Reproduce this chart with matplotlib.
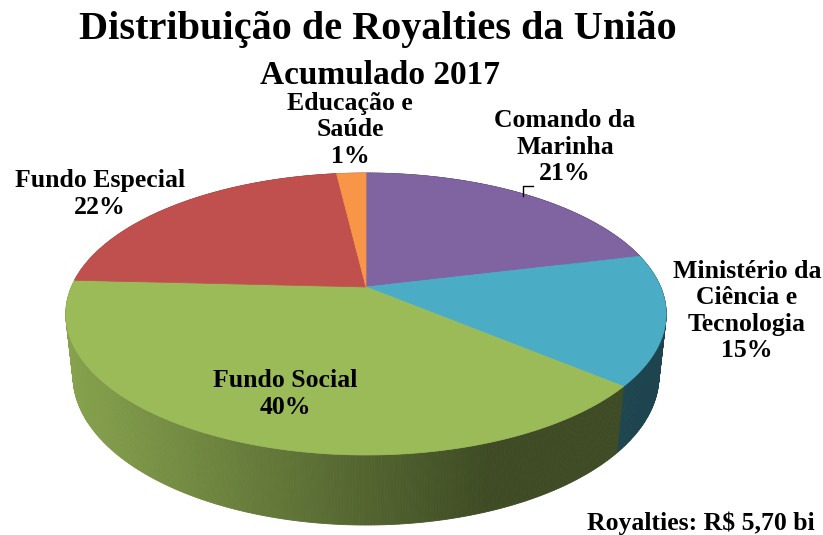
import numpy as np
import matplotlib
matplotlib.use("Agg")
import matplotlib.pyplot as plt
from matplotlib.collections import PolyCollection
from matplotlib.patches import Polygon
from matplotlib.colors import to_rgb

# ---------------- data ----------------
categories = ["Comando da\nMarinha", "Ministério da\nCiência e\nTecnologia",
              "Fundo Social", "Fundo Especial", "Educação e\nSaúde"]
shares = [21.2, 14.9, 39.7, 22.3, 1.9]
pct_labels = ["21%", "15%", "40%", "22%", "1%"]
colors = ["#8064A2", "#4BACC6", "#9BBB59", "#C0504D", "#F79646"]
title = "Distribuição de Royalties da União"
subtitle = "Acumulado 2017"
footer = "Royalties: R$ 5,70 bi"

# ---------------- 3D pie projection ----------------
elev = np.arcsin(0.461)
dist = 4.63
focal = 1364.0
thick = 0.238
cx, cy = 366.0, 287.0


def project(theta, z):
    X = np.sin(theta)
    Y = -np.cos(theta)
    s, c = np.sin(elev), np.cos(elev)
    depth = dist - (Y * c + z * s)
    up = z * c - Y * s
    return cx + focal * X / depth, cy - focal * up / depth


def shade(x):
    return np.interp(x, [66, 490, 680], [0.87, 0.40, 0.40])


fig = plt.figure(figsize=(8.23, 5.35), dpi=100)
ax = fig.add_axes([0, 0, 1, 1])
ax.set_xlim(0, 823)
ax.set_ylim(535, 0)
ax.axis("off")

total = float(sum(shares))
bounds = np.concatenate([[0], np.cumsum(shares)]) / total * 2 * np.pi

# side walls
quads, qcols, qkeys = [], [], []
for i, col in enumerate(colors):
    base = np.array(to_rgb(col))
    t0, t1 = bounds[i], bounds[i + 1]
    n = max(2, int(np.degrees(t1 - t0) * 2))
    ts = np.linspace(t0, t1, n + 1)
    for a, b in zip(ts[:-1], ts[1:]):
        xa, ya = project(a, 0)
        xb, yb = project(b, 0)
        xa2, ya2 = project(a, -thick)
        xb2, yb2 = project(b, -thick)
        quads.append([(xa, ya), (xb, yb), (xb2, yb2), (xa2, ya2)])
        f = shade((xa + xb) / 2)
        qcols.append(tuple(np.clip(base * f, 0, 1)))
        qkeys.append(-np.cos((a + b) / 2))
order = np.argsort(qkeys)
pc = PolyCollection([quads[k] for k in order], facecolors=[qcols[k] for k in order],
                    edgecolors=[qcols[k] for k in order], linewidths=0.6)
ax.add_collection(pc)

# top faces
for i, col in enumerate(colors):
    t0, t1 = bounds[i], bounds[i + 1]
    n = max(3, int(np.degrees(t1 - t0) * 2))
    ts = np.linspace(t0, t1, n + 1)
    xs, ys = project(ts, 0)
    pts = [(cx, cy)] + list(zip(xs, ys))
    ax.add_patch(Polygon(pts, closed=True, facecolor=col, edgecolor=col, linewidth=0.5))

# ---------------- texts ----------------
font = dict(family="Liberation Serif", weight="bold", color="black")
ax.text(378, 30, title, ha="center", va="center", fontsize=29, **font)
ax.text(380, 75, subtitle, ha="center", va="center", fontsize=24, **font)

label_pos = [(565, 147), (747, 311), (285, 394), (100, 194), (350, 130)]
for cat, pct, (lx, ly) in zip(categories, pct_labels, label_pos):
    ax.text(lx, ly, cat + "\n" + pct, ha="center", va="center", fontsize=18.5,
            linespacing=1.2, **font)

# leader line for Comando da Marinha
ax.plot([523, 523, 533], [196, 186, 186], color="black", lw=1)

ax.text(815, 523, footer, ha="right", va="center", fontsize=18.5, **font)

fig.savefig("out.png", dpi=100)
